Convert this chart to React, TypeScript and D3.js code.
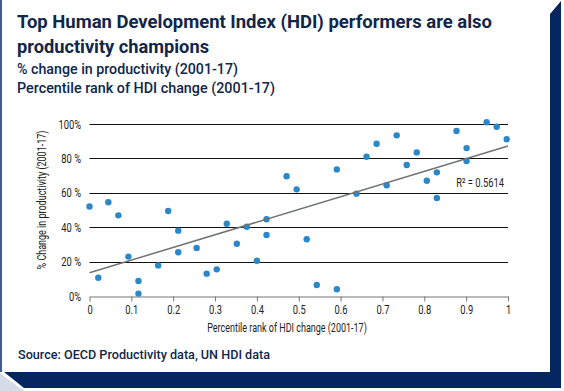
import React, { useEffect, useRef } from "react";
import * as d3 from "d3";

// percentile rank of HDI change (x) and % change in productivity (y)
const hdiRank = [
  0.0, 0.021, 0.045, 0.069, 0.093, 0.117, 0.117, 0.164, 0.188, 0.212, 0.212,
  0.256, 0.28, 0.304, 0.328, 0.352, 0.376, 0.4, 0.423, 0.423, 0.471, 0.495,
  0.519, 0.543, 0.591, 0.591, 0.638, 0.662, 0.686, 0.71, 0.734, 0.758, 0.782,
  0.806, 0.83, 0.83, 0.877, 0.901, 0.901, 0.949, 0.973, 0.997,
];
const productivityChange = [
  52, 10.6, 54.5, 46.9, 22.9, 8.7, 1.4, 17.8, 49.4, 38, 25.4, 27.9, 13, 15.5,
  42, 30.4, 40.3, 20.5, 44.6, 35.5, 69.6, 62, 33, 6.4, 73.6, 3.9, 59.5, 81,
  88.5, 64.4, 93.4, 76.2, 83.5, 67, 71.9, 57, 95.9, 86, 78.5, 101, 98.4, 91.1,
];

const xTicks = [0, 0.1, 0.2, 0.3, 0.4, 0.5, 0.6, 0.7, 0.8, 0.9, 1];
const xTickLabels = ["0", "0.1", "0.2", "0.3", "0.4", "0.5", "0.6", "0.7", "0.8", "0.9", "1"];
const yTicks = [0, 20, 40, 60, 80, 100];
const yTickLabels = ["0%", "20 %", "40 %", "60 %", "80 %", "100%"];

// fitted trend line
const trendX = [0, 1];
const trendY = [13.5, 87.2];
const rSquaredLabel = "R² = 0.5614";

const navy = "#062660";
const titleColor = "#10264a";
const dotColor = "#2c87c7";
const axisFont = "Roboto, sans-serif";
const squeeze = 0.72; // the original uses a condensed face

const W = 564;
const H = 391;

const App = () => {
  const ref = useRef<SVGSVGElement>(null);

  useEffect(() => {
    const svg = d3.select(ref.current);
    svg.selectAll("*").remove();

    // card background and navy frame
    svg
      .append("polygon")
      .attr("points", "0,373 24,391 0,391")
      .style("fill", "#d3dce8");
    svg
      .append("polygon")
      .attr("points", "550,14 561,1 561,388 24,388 4,372 550,372")
      .style("fill", navy);
    svg
      .append("rect")
      .attr("x", 0)
      .attr("y", 0)
      .attr("width", 550)
      .attr("height", 372)
      .style("fill", "white");
    svg
      .append("line")
      .attr("x1", 1)
      .attr("x2", 1)
      .attr("y1", 0)
      .attr("y2", 372)
      .style("stroke", navy)
      .style("stroke-width", 1.5);

    // titles
    const title = svg
      .append("g")
      .style("font-family", "Roboto, sans-serif")
      .style("fill", titleColor);
    title
      .append("text")
      .attr("x", 17)
      .attr("y", 28)
      .attr("font-size", "18.5px")
      .attr("font-weight", 700)
      .attr("textLength", 475)
      .attr("lengthAdjust", "spacingAndGlyphs")
      .text("Top Human Development Index (HDI) performers are also");
    title
      .append("text")
      .attr("x", 17)
      .attr("y", 53)
      .attr("font-size", "18.5px")
      .attr("font-weight", 700)
      .attr("textLength", 192)
      .attr("lengthAdjust", "spacingAndGlyphs")
      .text("productivity champions");
    title
      .append("text")
      .attr("x", 17)
      .attr("y", 74)
      .attr("font-size", "14px")
      .attr("font-weight", 500)
      .attr("textLength", 221)
      .attr("lengthAdjust", "spacingAndGlyphs")
      .text("% change in productivity (2001-17)");
    title
      .append("text")
      .attr("x", 17)
      .attr("y", 93)
      .attr("font-size", "14px")
      .attr("font-weight", 500)
      .attr("textLength", 258)
      .attr("lengthAdjust", "spacingAndGlyphs")
      .text("Percentile rank of HDI change (2001-17)");
    title
      .append("text")
      .attr("x", 18)
      .attr("y", 359)
      .attr("font-size", "12px")
      .attr("font-weight", 500)
      .attr("textLength", 252)
      .attr("lengthAdjust", "spacingAndGlyphs")
      .text("Source: OECD Productivity data, UN HDI data");

    // plot area
    const left = 89.5;
    const right = 508;
    const top = 124;
    const bottom = 296;

    const x = d3.scaleLinear().domain([0, 1]).range([left, right]);
    const y = d3.scaleLinear().domain([0, 100]).range([bottom, top]);

    // gridlines
    svg
      .append("g")
      .selectAll("line")
      .data(yTicks.filter((d) => d > 0))
      .enter()
      .append("line")
      .attr("x1", left)
      .attr("x2", right)
      .attr("y1", (d) => Math.round(y(d)) + 0.5)
      .attr("y2", (d) => Math.round(y(d)) + 0.5)
      .style("stroke", "#111")
      .style("stroke-width", 1);

    // x axis
    const xAxis = d3
      .axisBottom(x)
      .tickValues(xTicks)
      .tickFormat((d, i) => xTickLabels[i])
      .tickSize(5)
      .tickSizeOuter(0)
      .tickPadding(3);
    const xg = svg
      .append("g")
      .attr("transform", `translate(0, ${Math.round(bottom) + 0.5})`)
      .call(xAxis);
    xg.select(".domain").style("stroke", "#777");
    xg.selectAll(".tick line").style("stroke", "#777");
    xg.selectAll("text")
      .attr("transform", `scale(${squeeze},1)`)
      .style("font-family", axisFont)
      .style("font-size", "13px")
      .style("fill", "#222");

    // y tick labels
    svg
      .append("g")
      .selectAll("text")
      .data(yTicks)
      .enter()
      .append("text")
      .attr("transform", (d) => `translate(81, ${y(d) + 4.5}) scale(${squeeze},1)`)
      .attr("text-anchor", "end")
      .style("font-family", axisFont)
      .style("font-size", "13px")
      .style("fill", "#222")
      .text((d, i) => yTickLabels[i]);

    // axis titles
    svg
      .append("text")
      .attr("transform", `translate(287, 332) scale(${squeeze},1)`)
      .attr("text-anchor", "middle")
      .style("font-family", axisFont)
      .style("font-size", "12.5px")
      .style("fill", "#222")
      .text("Percentile rank of HDI change (2001-17)");
    svg
      .append("text")
      .attr("transform", `translate(46, 200) rotate(-90) scale(${squeeze},1)`)
      .attr("text-anchor", "middle")
      .style("font-family", axisFont)
      .style("font-size", "12.5px")
      .style("fill", "#222")
      .text("% Change in productivity (2001-17)");

    // points
    svg
      .append("g")
      .selectAll("circle")
      .data(hdiRank.map((d, i) => [d, productivityChange[i]]))
      .enter()
      .append("circle")
      .attr("cx", (d) => x(d[0]))
      .attr("cy", (d) => y(d[1]))
      .attr("r", 3.2)
      .style("fill", dotColor);

    // trend line
    const line = d3
      .line<number>()
      .x((d) => x(d))
      .y((d, i) => y(trendY[i]));
    svg
      .append("path")
      .attr("d", line(trendX))
      .style("fill", "none")
      .style("stroke", "#6f7374")
      .style("stroke-width", 1.5);

    svg
      .append("text")
      .attr("transform", `translate(504, 187) scale(${squeeze},1)`)
      .attr("text-anchor", "end")
      .style("font-family", axisFont)
      .style("font-size", "13px")
      .style("fill", "#222")
      .text(rSquaredLabel);
  }, []);

  return (
    <svg
      ref={ref}
      width={W}
      height={H}
      style={{ position: "absolute", left: 0, top: 0, background: "#fff" }}
    />
  );
};

export default App;
